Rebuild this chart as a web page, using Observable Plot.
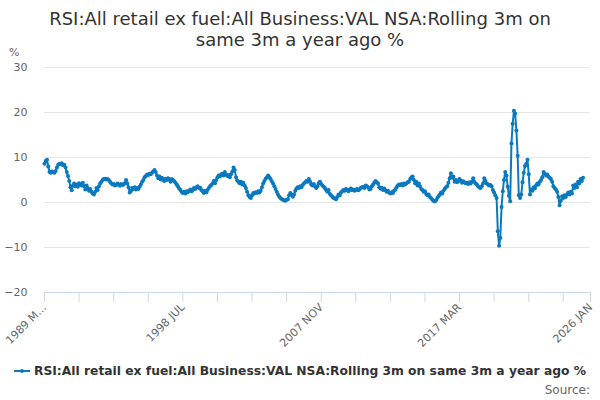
<!DOCTYPE html>
<html>
<head>
<meta charset="utf-8">
<script src="https://cdn.jsdelivr.net/npm/d3@7"></script>
<script src="https://cdn.jsdelivr.net/npm/@observablehq/plot@0.6"></script>
<style>
  body { margin: 0; width: 600px; height: 400px; position: relative; overflow: hidden; background: #fff; font-family: "DejaVu Sans", sans-serif; }
  #title { position: absolute; top: 8px; left: 0; width: 600px; text-align: center; font-size: 18px; line-height: 21px; color: #333; }
  #unit { position: absolute; left: 9px; top: 46px; font-size: 11px; color: #666; }
  #chart { position: absolute; top: 50px; left: 0; }
  #legend { position: absolute; top: 364px; left: 0; width: 600px; display: flex; justify-content: center; align-items: center; font-size: 12.3px; font-weight: bold; color: #333; }
  #legend svg { margin-right: 4px; }
  #source { position: absolute; right: 10px; top: 383px; font-size: 12px; color: #666; }
</style>
</head>
<body>
<div id="title">RSI:All retail ex fuel:All Business:VAL NSA:Rolling 3m on<br>same 3m a year ago %</div>
<div id="unit">%</div>
<div id="chart"></div>
<div id="legend"></div>
<div id="source">Source:</div>
<script>
// Series: monthly values starting 1989 MAR
const seriesName = "RSI:All retail ex fuel:All Business:VAL NSA:Rolling 3m on same 3m a year ago %";
const startYear = 1989;
const startMonth = 3;
const values = [
  8.6, 9.2, 9.5, 8.0, 6.8, 6.6, 6.9, 6.7, 6.6, 7.0, 7.8, 8.4,
  8.6, 8.5, 8.7, 8.3, 8.4, 7.8, 6.8, 5.9, 4.8, 3.4, 2.7,
  3.8, 4.2, 3.6, 4.0, 3.5, 4.3, 4.0, 3.8, 4.4, 3.6,
  2.9, 3.8, 3.2, 2.6, 3.0, 2.4, 2.0, 1.8, 2.4,
  3.2, 2.8, 3.6, 4.2, 4.6,
  5.0, 5.2, 5.3, 5.1, 5.2, 5.0, 4.6, 4.3, 4.0,
  4.1, 3.8, 3.9, 4.2, 4.0, 3.7, 4.1, 3.9, 4.0, 4.3, 5.0, 4.2, 3.4,
  2.2, 2.6,
  3.2, 3.0, 3.4, 2.9, 3.2, 3.0, 3.5, 4.0, 4.6,
  5.0, 5.6, 5.9, 6.2, 6.1, 6.4, 6.3,
  6.6, 6.9, 7.2, 6.8,
  6.0, 5.4, 5.8, 5.1, 5.5, 5.0, 4.8, 5.3, 5.0, 5.4, 5.1, 4.6, 5.2, 5.0, 4.7, 4.4, 4.0, 3.6,
  3.1, 2.8, 2.4, 2.1, 2.4, 2.0, 2.5, 2.3,
  2.6, 2.9, 2.5, 2.8, 3.2, 3.0, 3.4, 3.6, 3.2, 3.3,
  2.8, 2.5, 2.1, 2.6, 2.3, 2.8,
  3.2, 3.6, 3.9, 4.2, 4.8, 4.3, 5.0, 5.6,
  6.0, 5.8, 6.3, 6.4, 6.0, 6.8,
  6.2, 5.9, 6.1, 5.6, 6.3, 6.9,
  7.8, 7.2,
  5.6, 4.9, 4.6, 4.3, 4.6, 4.0, 4.4, 3.8, 3.2,
  2.4, 1.6, 1.2, 1.0,
  1.6, 2.1, 2.0, 2.3, 2.1, 2.5, 2.2, 2.6,
  3.4, 4.2, 4.8, 5.3, 5.6, 6.0,
  5.6, 5.2, 4.7, 4.2, 3.6, 3.0, 2.4, 1.8, 1.3, 1.0,
  0.8, 0.6, 0.5, 0.4, 0.6, 0.7,
  1.6, 2.1, 1.8, 1.3, 1.8,
  2.6, 3.1, 3.4, 3.2, 3.6, 3.4, 3.9, 4.2, 4.5, 4.8, 4.6, 5.2,
  4.6, 4.0, 3.8, 4.1, 3.6, 3.2, 3.6,
  4.3, 4.6, 4.1, 3.8,
  3.5, 3.2, 2.8, 2.4, 2.8, 1.9, 1.6, 1.3, 1.0, 0.9, 0.7, 1.2,
  1.8, 1.6, 2.2, 2.5, 2.8, 2.6, 3.0, 2.8,
  2.5, 2.9, 3.1, 2.7, 2.9, 2.6, 2.8, 3.0, 2.7, 2.9, 3.2,
  3.4, 3.5, 3.2, 3.8, 3.6, 3.4, 2.9, 3.0, 3.6, 4.0,
  4.4, 4.8, 4.5, 4.2,
  3.4, 3.1, 3.3, 2.8, 3.1, 2.7, 2.4, 2.6, 2.2,
  2.0, 2.3, 2.1, 2.6, 2.9, 3.4, 3.8, 4.0,
  3.9, 4.1, 3.8, 4.2, 4.0, 4.3, 4.5, 4.6,
  5.2, 5.6, 5.8, 5.0,
  4.3, 4.6, 3.8, 4.2, 3.6, 3.0, 2.8,
  2.4, 2.5, 1.9, 1.6, 1.8,
  1.2, 1.0, 0.6, 0.4, 0.2, 0.5,
  1.0, 1.4, 1.8, 2.2, 2.0, 2.6, 3.0, 3.4, 3.6,
  4.4, 5.4, 6.5,
  5.5, 5.8, 4.6, 5.0, 4.5, 4.8, 5.2, 4.9, 4.4, 4.7, 4.5, 4.3,
  4.4, 4.1, 4.5, 4.2, 4.6,
  5.4,
  4.6, 4.2, 4.0, 3.6, 3.4, 3.2, 3.6, 4.2,
  5.4,
  4.8, 4.2, 4.0, 3.8, 3.9, 3.6,
  2.8, 2.2, 1.6, 1.0,
  -6.4, -9.6, -7.9, -1.0, 2.5, 5.0, 6.8, 6.0, 3.5, 1.5, 0.3, 13.1, 17.5, 20.4, 19.8, 16.0,
  10.4, 1.6, 1.0, 1.8, 4.5, 6.6, 8.1, 8.6, 9.5, 6.3, 1.8,
  2.9, 2.6, 3.4, 3.1, 3.8,
  4.2, 4.0, 4.6, 5.0, 5.6,
  6.8, 6.4,
  6.0, 6.2, 5.8, 5.5, 5.2,
  4.6, 3.6, 3.2, 2.9, 2.4,
  1.2, -0.6, 0.4,
  1.4, 1.0, 1.6, 1.2, 1.8,
  2.2, 1.8, 2.4, 2.0,
  3.8, 3.2, 4.0, 3.4,
  4.6, 4.2, 5.2, 4.8, 5.5
];

// Axis definitions
const yTicks = [-20, -10, 0, 10, 20, 30];
const xDomainStart = [1989, 3];
const xDomainEnd = [2026, 1];
const xTickStepMonths = 28;
const xTickLastOffset = 442;
const xTickLabels = ["1989 M…", "1998 JUL", "2007 NOV", "2017 MAR", "2026 JAN"];
const xTickLabelOffsets = [0, 112, 224, 336, 442];

const color = "#0a79bf";

const monthDate = (y, m) => new Date(Date.UTC(y, m - 1, 1));
const data = values.map((v, i) => ({ date: monthDate(startYear, startMonth + i), value: v }));

const tickOffsets = d3.range(0, xTickLastOffset, xTickStepMonths).concat([xTickLastOffset]);
const tickDates = tickOffsets.map(o => monthDate(xDomainStart[0], xDomainStart[1] + o));
const labelMap = new Map(xTickLabelOffsets.map((o, i) => [+monthDate(xDomainStart[0], xDomainStart[1] + o), xTickLabels[i]]));

const chart = Plot.plot({
  width: 600,
  height: 300,
  marginLeft: 44,
  marginRight: 10,
  marginTop: 17,
  marginBottom: 58,
  style: { fontFamily: "DejaVu Sans", fontSize: "11px", color: "#666", overflow: "visible", background: "transparent" },
  x: { type: "utc", domain: [monthDate(...xDomainStart), monthDate(...xDomainEnd)] },
  y: { domain: [-20, 30] },
  marks: [
    Plot.gridY(yTicks.filter(v => v > -20), { stroke: "#e6e6e6", strokeOpacity: 1 }),
    Plot.ruleY([-20], { stroke: "#ccd6eb" }),
    Plot.axisY(yTicks, { tickSize: 0, tickPadding: 17, label: null }),
    Plot.axisX(tickDates, {
      tickSize: 10,
      stroke: "#ccd6eb",
      tickRotate: -45,
      tickPadding: 3,
      label: null,
      tickFormat: d => labelMap.get(+d) ?? ""
    }),
    Plot.line(data, { x: "date", y: "value", stroke: color, strokeWidth: 2 }),
    Plot.dot(data, { x: "date", y: "value", r: 2, fill: color })
  ]
});
document.getElementById("chart").appendChild(chart);

// Legend
const legend = document.getElementById("legend");
const ns = "http://www.w3.org/2000/svg";
const icon = document.createElementNS(ns, "svg");
icon.setAttribute("width", "16");
icon.setAttribute("height", "10");
const ln = document.createElementNS(ns, "line");
ln.setAttribute("x1", "0"); ln.setAttribute("x2", "16");
ln.setAttribute("y1", "5"); ln.setAttribute("y2", "5");
ln.setAttribute("stroke", color); ln.setAttribute("stroke-width", "2");
const c = document.createElementNS(ns, "circle");
c.setAttribute("cx", "8"); c.setAttribute("cy", "5"); c.setAttribute("r", "2");
c.setAttribute("fill", color);
icon.appendChild(ln); icon.appendChild(c);
legend.appendChild(icon);
const span = document.createElement("span");
span.textContent = seriesName;
legend.appendChild(span);
</script>
</body>
</html>
